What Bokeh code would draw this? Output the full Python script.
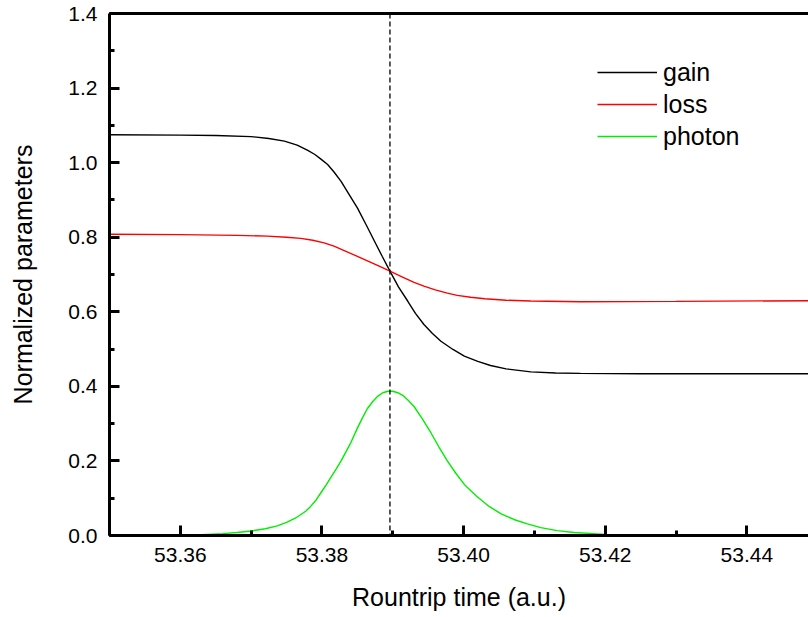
from bokeh.plotting import figure
from bokeh.models import (Range1d, LinearAxis, SingleIntervalTicker, FixedTicker,
                          NumeralTickFormatter, Span, Legend, LegendItem)
from bokeh.embed import file_html
from bokeh.resources import INLINE

# ---- data ----
gain_t = [53.350, 53.360, 53.365, 53.370, 53.3725, 53.3747, 53.3765, 53.3780, 53.3790,
          53.3799, 53.3808, 53.3817, 53.3827, 53.3838, 53.3850, 53.3862, 53.3874,
          53.3885, 53.3896, 53.3908, 53.3921, 53.3932, 53.3944, 53.3956, 53.3968,
          53.3985, 53.4001, 53.4020, 53.4038, 53.4060, 53.4095, 53.4130, 53.4165,
          53.425, 53.450]
gain = [1.075, 1.074, 1.073, 1.070, 1.065, 1.058, 1.047, 1.033, 1.022,
        1.009, 0.995, 0.975, 0.950, 0.916, 0.879, 0.835, 0.790,
        0.749, 0.709, 0.667, 0.629, 0.596, 0.566, 0.542, 0.521,
        0.499, 0.481, 0.467, 0.456, 0.447, 0.439, 0.436, 0.435,
        0.434, 0.434]

loss_t = [53.350, 53.360, 53.368, 53.3723, 53.3750, 53.3770, 53.3787, 53.3803, 53.3817,
          53.3833, 53.3850, 53.3865, 53.3880, 53.3896, 53.3913, 53.3930, 53.3944,
          53.3960, 53.3977, 53.3991, 53.4010, 53.4030, 53.4060, 53.4095, 53.4165,
          53.430, 53.450]
loss = [0.808, 0.807, 0.805, 0.803, 0.800, 0.797, 0.792, 0.785, 0.776,
        0.763, 0.749, 0.736, 0.723, 0.709, 0.694, 0.679, 0.669,
        0.659, 0.650, 0.644, 0.639, 0.635, 0.631, 0.629, 0.627,
        0.628, 0.630]

photon_t = [53.350, 53.355, 53.360, 53.363, 53.366, 53.368, 53.370, 53.372, 53.3737,
            53.375, 53.3763, 53.3777, 53.3784, 53.3792, 53.3799, 53.3806, 53.3813,
            53.3820, 53.3827, 53.3834, 53.3841, 53.3850, 53.3857, 53.3864, 53.3872,
            53.3879, 53.3886, 53.3893, 53.3900, 53.3907, 53.3914, 53.3921, 53.3930,
            53.3942, 53.3954, 53.3965, 53.3977, 53.3989, 53.4001, 53.4018, 53.4036,
            53.4053, 53.4071, 53.4090, 53.4109, 53.4132, 53.4156, 53.420, 53.425,
            53.430, 53.440, 53.450]
photon = [0.000, 0.000, 0.001, 0.002, 0.005, 0.008, 0.012, 0.018, 0.026,
          0.035, 0.047, 0.065, 0.078, 0.096, 0.116, 0.136, 0.157,
          0.178, 0.200, 0.225, 0.250, 0.288, 0.315, 0.340, 0.360,
          0.374, 0.383, 0.387, 0.387, 0.383, 0.376, 0.364, 0.346,
          0.312, 0.275, 0.238, 0.200, 0.167, 0.137, 0.106, 0.078,
          0.058, 0.043, 0.031, 0.021, 0.013, 0.008, 0.003, 0.002,
          0.001, 0.000, 0.000]

peak_time = 53.3896
x_start, x_end = 53.35, 53.4487
y_start, y_end = 0.0, 1.4002

FONT = "Liberation Sans"

p = figure(width=808, height=617, output_backend="svg", toolbar_location=None,
           x_range=Range1d(x_start, x_end), y_range=Range1d(y_start, y_end),
           min_border_left=109, min_border_right=0, min_border_top=13,
           min_border_bottom=82, x_axis_label="Rountrip time (a.u.)",
           y_axis_label="Normalized parameters")
p.outline_line_color = None
p.background_fill_color = "white"
p.border_fill_color = "white"
p.xgrid.grid_line_color = None
p.ygrid.grid_line_color = None

p.xaxis.ticker = SingleIntervalTicker(interval=0.02, num_minor_ticks=2)
p.yaxis.ticker = SingleIntervalTicker(interval=0.2, num_minor_ticks=2)
p.xaxis.formatter = NumeralTickFormatter(format="0.00")
p.yaxis.formatter = NumeralTickFormatter(format="0.0")

for ax in (p.xaxis[0], p.yaxis[0]):
    ax.axis_line_width = 3
    ax.axis_line_color = "black"
    ax.major_tick_in = 10
    ax.major_tick_out = 0
    ax.minor_tick_in = 5
    ax.minor_tick_out = 0
    ax.major_tick_line_width = 3
    ax.minor_tick_line_width = 3
    ax.major_tick_line_color = "black"
    ax.minor_tick_line_color = "black"
    ax.major_label_text_font = FONT
    ax.major_label_text_font_size = "21px"
    ax.major_label_text_color = "black"
    ax.axis_label_text_font = FONT
    ax.axis_label_text_font_size = "25px"
    ax.axis_label_text_font_style = "normal"
    ax.axis_label_text_color = "black"
    ax.major_label_standoff = 12

p.xaxis.axis_label_standoff = 18
p.yaxis.axis_label_standoff = 28

top_axis = LinearAxis(ticker=FixedTicker(ticks=[]), major_label_text_font_size="0px",
                      axis_line_width=3, axis_line_color="black",
                      major_tick_line_color=None, minor_tick_line_color=None,
                      major_tick_out=0, major_tick_in=0, major_label_standoff=0)
p.add_layout(top_axis, "above")

r_gain = p.line(gain_t, gain, line_color="black", line_width=1.4)
r_loss = p.line(loss_t, loss, line_color="#ff0000", line_width=1.4)
r_photon = p.line(photon_t, photon, line_color="#00ee00", line_width=1.4)

p.add_layout(Span(location=peak_time, dimension="height", line_color="black",
                  line_width=1.3, line_dash="5 3"))

legend = Legend(items=[LegendItem(label="gain", renderers=[r_gain]),
                       LegendItem(label="loss", renderers=[r_loss]),
                       LegendItem(label="photon", renderers=[r_photon])],
                location=(488, 384), border_line_color=None, background_fill_alpha=0,
                padding=0, margin=0, spacing=2, glyph_width=60, glyph_height=30,
                label_height=30, label_standoff=6, label_text_font=FONT,
                label_text_font_size="25px", label_text_color="black")
p.add_layout(legend, "center")

open("out.html", "w").write(file_html(p, INLINE))
